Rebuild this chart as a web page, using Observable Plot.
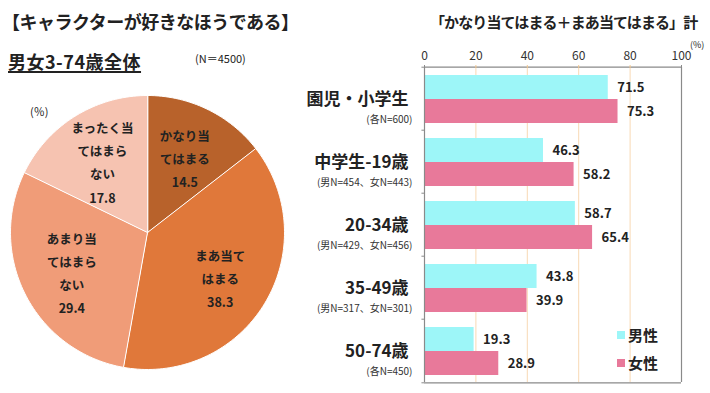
<!DOCTYPE html>
<html><head><meta charset="utf-8">
<script src="https://cdn.jsdelivr.net/npm/d3@7"></script>
<script src="https://cdn.jsdelivr.net/npm/@observablehq/plot@0.6"></script>
<style>
body{margin:0;background:#fff;font-family:"Noto Sans CJK JP","Noto Sans",sans-serif;color:#222;}
#wrap{position:relative;width:710px;height:393px;overflow:hidden;background:#fff;}
.abs{position:absolute;white-space:nowrap;line-height:1;}
</style></head><body><div id="wrap">
<div class="abs" style="left:2px;top:12px;font-size:18px;font-weight:bold;letter-spacing:-0.5px;">【キャラクターが好きなほうである】</div>
<div class="abs" style="left:8px;top:52px;font-size:18px;font-weight:bold;letter-spacing:0.5px;text-decoration:underline;text-underline-offset:2px;text-decoration-thickness:2px;">男女3-74歳全体</div>
<div class="abs" style="left:195px;top:53px;font-size:11px;">(N＝4500)</div>
<div class="abs" style="left:30px;top:106px;font-size:11px;">(％)</div>
<div class="abs" style="left:430px;top:14px;font-size:15px;font-weight:bold;letter-spacing:-0.9px;">「かなり当てはまる＋まあ当てはまる」計</div>
<div class="abs" style="left:690px;top:40px;font-size:9px;">(%)</div>
<div id="legend"></div>
</div>
<script>
// ---- Pie data ----
const pieLabels = ["かなり当\nてはまる", "まあ当て\nはまる", "あまり当\nてはまら\nない", "まったく当\nてはまら\nない"];
const pieValues = [14.5, 38.3, 29.4, 17.8];
const pieColors = ["#B8622B", "#E0783A", "#F09C78", "#F6C3B1"];

// ---- Bar data ----
const groups = ["園児・小学生", "中学生-19歳", "20-34歳", "35-49歳", "50-74歳"];
const groupNotes = ["(各N=600)", "(男N=454、女N=443)", "(男N=429、女N=456)", "(男N=317、女N=301)", "(各N=450)"];
const sexes = ["男性", "女性"];
const maleValues = [71.5, 46.3, 58.7, 43.8, 19.3];
const femaleValues = [75.3, 58.2, 65.4, 39.9, 28.9];
const xTicks = [0, 20, 40, 60, 80, 100];
const barColors = ["#9DF6F8", "#E8799A"];

const FONT = "'Noto Sans CJK JP','Noto Sans',sans-serif";
const wrap = document.getElementById("wrap");

// ---- Pie chart ----
const arcs = d3.pie().sort(null).value(d => d.value)(pieLabels.map((label, i) => ({label, value: pieValues[i]})));
const piePts = [];
arcs.forEach(a => {
  const label = a.data.label;
  piePts.push({label, x: 0, y: 0});
  const n = Math.max(2, Math.ceil((a.endAngle - a.startAngle) / (Math.PI / 120)));
  for (let k = 0; k <= n; k++) {
    const t = a.startAngle + (a.endAngle - a.startAngle) * k / n;
    piePts.push({label, x: Math.sin(t), y: Math.cos(t)});
  }
});
const pieText = arcs.map(a => {
  const m = (a.startAngle + a.endAngle) / 2;
  return {label: a.data.label, value: a.data.value, x: 0.62 * Math.sin(m), y: 0.62 * Math.cos(m)};
});
const pie = Plot.plot({
  width: 294, height: 294,
  marginLeft: 10, marginRight: 10, marginTop: 10, marginBottom: 10,
  x: {domain: [-1, 1], axis: null},
  y: {domain: [-1, 1], axis: null},
  color: {domain: pieLabels, range: pieColors},
  style: {fontFamily: FONT, background: "transparent", overflow: "visible"},
  marks: [
    Plot.line(piePts, {x: "x", y: "y", z: "label", fill: "label", stroke: "white", strokeWidth: 1, curve: "linear-closed"}),
    Plot.text(pieText, {x: "x", y: "y", text: d => d.label + "\n" + d.value.toFixed(1), fontSize: 12.5, fontWeight: "bold", fill: "#222", lineHeight: 1.85, lineAnchor: "middle"})
  ]
});
pie.style.position = "absolute"; pie.style.left = "0px"; pie.style.top = "85px";
wrap.appendChild(pie);

// ---- Bar chart ----
const rows = [];
groups.forEach((g, i) => {
  rows.push({group: g, sex: sexes[0], value: maleValues[i]});
  rows.push({group: g, sex: sexes[1], value: femaleValues[i]});
});
const notes = groups.map((g, i) => ({group: g, note: groupNotes[i]}));
const H = 393, MT = 65, MB = 10;
const facetH = (H - MT - MB) / groups.length;
const first = [groups[0]], last = [groups[groups.length - 1]];
const bar = Plot.plot({
  width: 710, height: H,
  marginLeft: 424, marginRight: 29, marginTop: MT, marginBottom: MB,
  x: {domain: [0, 100], axis: null},
  y: {domain: sexes, paddingInner: 0, paddingOuter: 0.28, axis: null},
  fy: {domain: groups, padding: 0, axis: null},
  color: {domain: sexes, range: barColors},
  style: {fontFamily: FONT, background: "transparent", overflow: "visible"},
  marks: [
    Plot.ruleX([20, 40, 60, 80], {stroke: "#F8D9B4", strokeWidth: 1}),
    Plot.barX(rows, {x: "value", y: "sex", fy: "group", fill: "sex"}),
    Plot.ruleX([0, 100], {stroke: "#8A8A8A", strokeWidth: 1.2}),
    Plot.ruleY(first, {fy: d => d, y: null, x1: 0, x2: 100, dy: -facetH / 2, stroke: "#8A8A8A", strokeWidth: 1.2}),
    Plot.ruleY(last, {fy: d => d, y: null, x1: 0, x2: 100, dy: facetH / 2, stroke: "#8A8A8A", strokeWidth: 1.2}),
    Plot.ruleY(groups, {fy: d => d, y: null, x1: -1, x2: 0, dy: -facetH / 2, stroke: "#8A8A8A"}),
    Plot.ruleY(last, {fy: d => d, y: null, x1: -1, x2: 0, dy: facetH / 2, stroke: "#8A8A8A"}),
    Plot.axisX([0, 100], {anchor: "top", label: null, tickSize: 3, tickPadding: 5, fontSize: 12, stroke: "#8A8A8A", fill: "#333"}),
    Plot.axisX([20, 40, 60, 80], {anchor: "top", label: null, tickSize: 3, tickPadding: 5, fontSize: 12, stroke: "#F4C88F", fill: "#333"}),
    Plot.text(rows, {x: "value", y: "sex", fy: "group", text: d => d.value.toFixed(1), textAnchor: "start", dx: 9, fontSize: 13, fontWeight: "bold", fill: "#222"}),
    Plot.text(groups, {fy: d => d, frameAnchor: "left", text: d => d, textAnchor: "end", dx: -16, dy: 1, fontSize: 17, fontWeight: "bold", fill: "#222"}),
    Plot.text(notes, {fy: "group", frameAnchor: "left", text: "note", textAnchor: "end", dx: -12, dy: 21, fontSize: 10, fill: "#333"})
  ]
});
bar.style.position = "absolute"; bar.style.left = "0px"; bar.style.top = "0px";
wrap.insertBefore(bar, wrap.firstChild);

// ---- Legend ----
const legend = document.getElementById("legend");
sexes.forEach((s, i) => {
  const top = 327 + i * 28;
  legend.insertAdjacentHTML("beforeend",
    `<div class="abs" style="left:617px;top:${top + 4}px;width:8px;height:8px;background:${barColors[i]};"></div>` +
    `<div class="abs" style="left:628px;top:${top}px;font-size:15px;font-weight:bold;line-height:16px;">${s}</div>`);
});
</script>
</body></html>
